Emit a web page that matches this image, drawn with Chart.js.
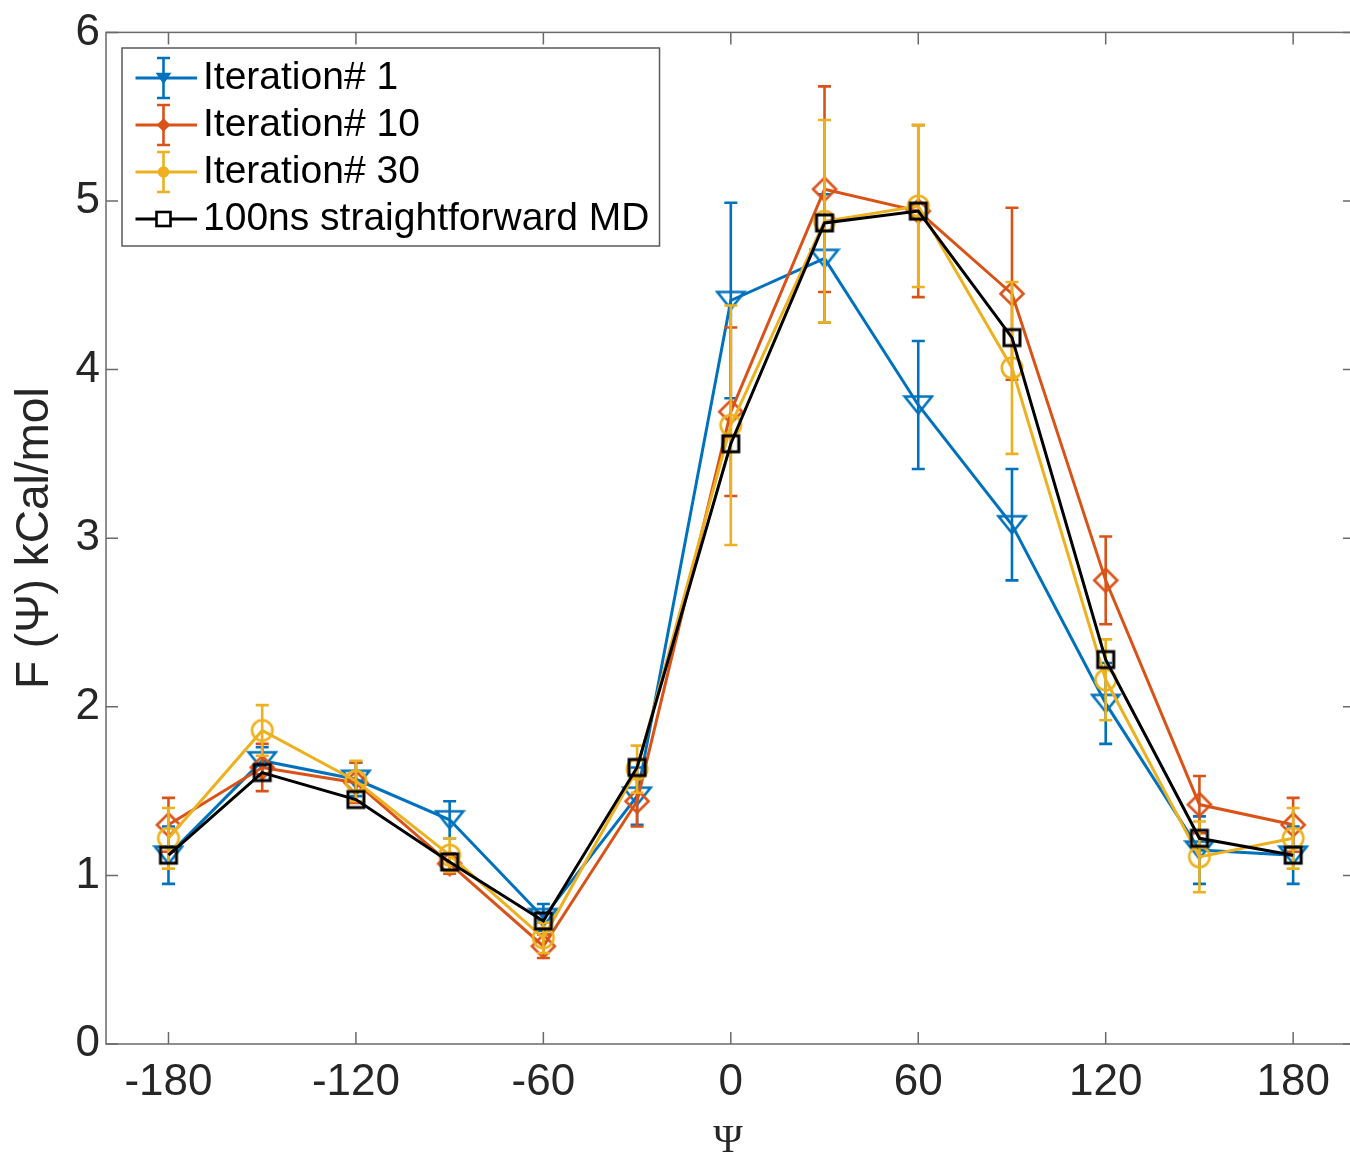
<!DOCTYPE html>
<html>
<head>
<meta charset="utf-8">
<script src="https://cdn.jsdelivr.net/npm/chart.js@4.4.1/dist/chart.umd.min.js"></script>
<style>
html,body{margin:0;padding:0;background:#ffffff;overflow:hidden;}
#wrap{width:1350px;height:1156px;overflow:hidden;}
</style>
</head>
<body>
<div id="wrap"><canvas id="c" width="1350" height="1156"></canvas></div>
<script>
// ---------- data ----------
const psi = [-180, -150, -120, -90, -60, -30, 0, 30, 60, 90, 120, 150, 180];
const seriesLabels = ['Iteration# 1', 'Iteration# 10', 'Iteration# 30', '100ns straightforward MD'];
const iter1     = [1.12, 1.68, 1.57, 1.33, 0.75, 1.47, 4.41, 4.66, 3.79, 3.08, 2.02, 1.15, 1.12];
const iter1Err  = [0.17, 0.08, 0.10, 0.11, 0.08, 0.17, 0.58, 0.38, 0.38, 0.33, 0.24, 0.20, 0.17];
const iter10    = [1.30, 1.64, 1.55, 1.07, 0.58, 1.44, 3.75, 5.07, 4.94, 4.45, 2.75, 1.42, 1.30];
const iter10Err = [0.16, 0.14, 0.12, 0.06, 0.07, 0.15, 0.50, 0.61, 0.51, 0.51, 0.26, 0.17, 0.16];
const iter30    = [1.22, 1.86, 1.56, 1.12, 0.63, 1.63, 3.67, 4.88, 4.97, 4.01, 2.16, 1.11, 1.22];
const iter30Err = [0.18, 0.15, 0.12, 0.10, 0.09, 0.14, 0.71, 0.60, 0.48, 0.51, 0.24, 0.21, 0.18];
const md100     = [1.12, 1.61, 1.45, 1.08, 0.73, 1.64, 3.56, 4.87, 4.94, 4.19, 2.28, 1.22, 1.12];
const xTicks = [-180, -120, -60, 0, 60, 120, 180];
const yTicks = [0, 1, 2, 3, 4, 5, 6];
const xTitle = 'Ψ';
const yTitle = 'F (Ψ) kCal/mol';

// ---------- styles ----------
const BLUE = '#0072BD', RED = '#D95319', YEL = '#EDB120', BLK = '#000000';
const AXIS = '#262626';
const SANS = "'Liberation Sans', Arial, Helvetica, sans-serif";

function mk(w, h, fn) {
  const c = document.createElement('canvas');
  c.width = w; c.height = h;
  fn(c.getContext('2d'), w, h);
  return c;
}
function triDown(g, cx, cy, w, h) {
  g.beginPath();
  g.moveTo(cx - w / 2, cy - h / 2);
  g.lineTo(cx + w / 2, cy - h / 2);
  g.lineTo(cx, cy + h / 2);
  g.closePath();
}
function diamond(g, cx, cy, r) {
  g.beginPath();
  g.moveTo(cx, cy - r); g.lineTo(cx + r, cy); g.lineTo(cx, cy + r); g.lineTo(cx - r, cy);
  g.closePath();
}
// data markers (hollow)
const mTri = mk(32, 22, (g, w, h) => { g.strokeStyle = BLUE; g.lineWidth = 2.6; g.lineJoin = 'miter'; triDown(g, w / 2, h / 2, 27, 17); g.stroke(); });
const mDia = mk(28, 28, (g, w, h) => { g.strokeStyle = RED; g.lineWidth = 2.6; diamond(g, w / 2, h / 2, 11.5); g.stroke(); });
const mCir = mk(26, 26, (g, w, h) => { g.strokeStyle = YEL; g.lineWidth = 2.6; g.beginPath(); g.arc(w / 2, h / 2, 10.2, 0, Math.PI * 2); g.stroke(); });
const mSq  = mk(22, 22, (g, w, h) => { g.strokeStyle = BLK; g.lineWidth = 3; g.strokeRect(w / 2 - 8, h / 2 - 8, 16, 16); });

// legend icons
function legendIcon(color, withErr, markerFn) {
  return mk(67, 46, (g, w, h) => {
    const cy = h / 2;
    g.strokeStyle = color; g.lineWidth = 3;
    g.beginPath(); g.moveTo(0, cy); g.lineTo(w, cy); g.stroke();
    if (withErr) {
      g.lineWidth = 2.6;
      g.beginPath();
      g.moveTo(w / 2, cy - 20); g.lineTo(w / 2, cy + 20);
      g.moveTo(w / 2 - 6.5, cy - 20); g.lineTo(w / 2 + 6.5, cy - 20);
      g.moveTo(w / 2 - 6.5, cy + 20); g.lineTo(w / 2 + 6.5, cy + 20);
      g.stroke();
    }
    markerFn(g, w / 2, cy);
  });
}
const legIcons = [
  legendIcon(BLUE, true, (g, x, y) => { g.fillStyle = BLUE; g.strokeStyle = BLUE; g.lineWidth = 2.5; triDown(g, x, y, 11, 8); g.fill(); g.stroke(); }),
  legendIcon(RED, true, (g, x, y) => { g.fillStyle = RED; g.strokeStyle = RED; g.lineWidth = 2.5; diamond(g, x, y, 5); g.fill(); g.stroke(); }),
  legendIcon(YEL, true, (g, x, y) => { g.fillStyle = YEL; g.strokeStyle = YEL; g.lineWidth = 2.5; g.beginPath(); g.arc(x, y, 4.5, 0, Math.PI * 2); g.fill(); g.stroke(); }),
  legendIcon(BLK, false, (g, x, y) => { g.fillStyle = '#fff'; g.strokeStyle = BLK; g.lineWidth = 2.6; g.fillRect(x - 7, y - 7, 14, 14); g.strokeRect(x - 7, y - 7, 14, 14); })
];

function pts(vals) { return psi.map((x, i) => ({ x: x, y: vals[i] })); }
function ds(i, vals, errs, color, marker, order) {
  return {
    label: seriesLabels[i], data: pts(vals), errors: errs,
    borderColor: color, backgroundColor: color, borderWidth: 3,
    pointStyle: marker, pointRadius: 10, pointHoverRadius: 10,
    tension: 0, fill: false, order: order
  };
}

// ---------- plugins ----------
const errBars = {
  id: 'errBars',
  beforeDatasetDraw(chart, args) {
    const d = chart.data.datasets[args.index];
    if (!d.errors) return;
    const { ctx, chartArea: a } = chart;
    const xs = chart.scales.x, ys = chart.scales.y;
    ctx.save();
    ctx.beginPath(); ctx.rect(a.left, a.top, a.right - a.left, a.bottom - a.top); ctx.clip();
    ctx.strokeStyle = d.borderColor; ctx.lineWidth = 2.6; ctx.lineCap = 'butt';
    d.data.forEach((p, i) => {
      const e = d.errors[i];
      const px = xs.getPixelForValue(p.x);
      const t = ys.getPixelForValue(p.y + e), b = ys.getPixelForValue(p.y - e);
      ctx.beginPath();
      ctx.moveTo(px, t); ctx.lineTo(px, b);
      ctx.moveTo(px - 6.5, t); ctx.lineTo(px + 6.5, t);
      ctx.moveTo(px - 6.5, b); ctx.lineTo(px + 6.5, b);
      ctx.stroke();
    });
    ctx.restore();
  }
};

const frame = {
  id: 'frame',
  afterLayout(chart) {
    const L = chart.legend;
    if (!L) return;
    const dx = 135.5 - L.left, dy = 50.5 - L.top;
    L.left += dx; L.right += dx; L.top += dy; L.bottom += dy;
  },
  beforeDraw(chart) {
    const { ctx } = chart;
    const L = chart.legend;
    ctx.save();
    ctx.fillStyle = '#fff';
    ctx.fillRect(0, 0, chart.width, chart.height);
    if (L) {
      ctx.font = '39px ' + SANS;
      let mw = 0;
      seriesLabels.forEach(s => { mw = Math.max(mw, ctx.measureText(s).width); });
      const x0 = L.left - 13.5, y0 = L.top - 2.5;
      const x1 = L.left + 8 + 40 + 19.5 + mw + 10;
      const y1 = y0 + 198;
      ctx.fillStyle = '#fff';
      ctx.fillRect(x0, y0, x1 - x0, y1 - y0);
      ctx.strokeStyle = '#5a5a5a'; ctx.lineWidth = 1.5;
      ctx.strokeRect(x0, y0, x1 - x0, y1 - y0);
    }
    ctx.restore();
  },
  afterDraw(chart) {
    const { ctx, chartArea: a } = chart;
    const xs = chart.scales.x, ys = chart.scales.y;
    const right = a.right + 5; // axes box continues just past the visible edge
    ctx.save();
    ctx.strokeStyle = '#6a6a6a'; ctx.lineWidth = 1.5;
    ctx.strokeRect(a.left, a.top, right - a.left, a.bottom - a.top);
    ctx.beginPath();
    const tl = 12;
    xs.ticks.forEach(t => {
      const px = xs.getPixelForValue(t.value);
      ctx.moveTo(px, a.bottom); ctx.lineTo(px, a.bottom - tl);
      ctx.moveTo(px, a.top); ctx.lineTo(px, a.top + tl);
    });
    ys.ticks.forEach(t => {
      const py = ys.getPixelForValue(t.value);
      ctx.moveTo(a.left, py); ctx.lineTo(a.left + tl, py);
      ctx.moveTo(right, py); ctx.lineTo(right - tl, py);
    });
    ctx.stroke();
    ctx.restore();
  }
};

// ---------- chart ----------
new Chart(document.getElementById('c'), {
  type: 'line',
  data: {
    datasets: [
      ds(0, iter1, iter1Err, BLUE, mTri, 4),
      ds(1, iter10, iter10Err, RED, mDia, 3),
      ds(2, iter30, iter30Err, YEL, mCir, 2),
      ds(3, md100, null, BLK, mSq, 1)
    ]
  },
  options: {
    responsive: false,
    animation: false,
    devicePixelRatio: 1,
    layout: { autoPadding: false, padding: { top: 32, right: 0, left: 0, bottom: 0 } },
    plugins: {
      tooltip: { enabled: false },
      legend: {
        position: 'chartArea',
        align: 'start',
        labels: {
          usePointStyle: true,
          pointStyleWidth: 40,
          boxHeight: 39,
          padding: 8,
          color: '#000',
          font: { family: SANS, size: 39 },
          generateLabels(chart) {
            const items = Chart.defaults.plugins.legend.labels.generateLabels(chart);
            items.sort((p, q) => p.datasetIndex - q.datasetIndex);
            items.forEach(it => { it.pointStyle = legIcons[it.datasetIndex]; });
            return items;
          }
        }
      }
    },
    scales: {
      x: {
        type: 'linear', min: -200, max: 198.2,
        afterBuildTicks(s) { s.ticks = xTicks.map(v => ({ value: v })); },
        afterFit(s) { s.height = 112; s.paddingLeft = 0; s.paddingRight = 0; },
        grid: { display: false, drawTicks: false },
        border: { display: false },
        ticks: { color: AXIS, font: { family: SANS, size: 44 }, padding: 12, maxRotation: 0, autoSkip: false },
        title: { display: true, text: xTitle, color: AXIS, font: { family: "'Liberation Serif', 'DejaVu Serif', serif", size: 40, lineHeight: 1 }, padding: { top: 0, bottom: -5 } }
      },
      y: {
        type: 'linear', min: 0, max: 6,
        afterBuildTicks(s) { s.ticks = yTicks.map(v => ({ value: v })); },
        afterFit(s) { s.width = 106; },
        grid: { display: false, drawTicks: false },
        border: { display: false },
        ticks: { color: AXIS, font: { family: SANS, size: 44 }, padding: 6, autoSkip: false },
        title: { display: true, text: yTitle, color: AXIS, font: { family: SANS, size: 46, lineHeight: 1 }, padding: { top: 12, bottom: 0 } }
      }
    }
  },
  plugins: [errBars, frame]
});
</script>
</body>
</html>
